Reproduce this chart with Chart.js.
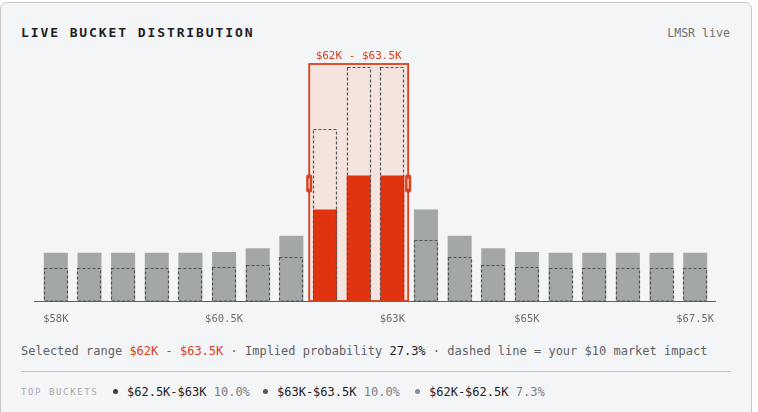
<!DOCTYPE html>
<html>
<head>
<meta charset="utf-8">
<script src="https://cdn.jsdelivr.net/npm/chart.js@4.4.1/dist/chart.umd.min.js"></script>
<style>
  html, body { margin: 0; padding: 0; background: #fff; width: 758px; height: 412px; overflow: hidden; }
  body { position: relative; font-family: "DejaVu Sans Mono", monospace; }
  .card { position: absolute; left: 0; top: 2px; width: 752px; height: 440px; box-sizing: border-box;
          background: #f3f5f6; border: 1px solid #c4c8cb; border-radius: 7px; }
  .title { position: absolute; left: 21px; top: 25px; line-height: 16px; font-size: 13px; font-weight: bold;
           letter-spacing: 1.9px; color: #1d2126; }
  .live { position: absolute; right: 28px; top: 25px; line-height: 16px; font-size: 11.6px; color: #6d7276; }
  #wrap { position: absolute; left: 0; top: 40px; width: 752px; height: 300px; }
  .caption { position: absolute; left: 21px; top: 343px; line-height: 16px; font-size: 12px; color: #5d6267; white-space: nowrap; }
  .caption .red { color: #d9401f; }
  .caption .dark { color: #1f2327; }
  .sep { position: absolute; left: 21px; top: 371px; width: 710px; height: 1px; background: #c3c7ca; }
  .topb { position: absolute; left: 21px; top: 384px; line-height: 16px; font-size: 9px; letter-spacing: 1.6px; color: #a5a9ad; }
  .item { position: absolute; top: 384px; line-height: 16px; font-size: 12px; color: #1f2327; white-space: nowrap; }
  .item .dot { display: inline-block; width: 5px; height: 5px; border-radius: 50%; margin-right: 9px; vertical-align: 2px; }
  .item .pct { color: #7b8085; }
</style>
</head>
<body>
<div class="card"></div>
<div class="title">LIVE BUCKET DISTRIBUTION</div>
<div class="live">LMSR live</div>
<div id="wrap"><canvas id="chart"></canvas></div>
<div class="caption" id="caption"></div>
<div class="sep"></div>
<div class="topb">TOP BUCKETS</div>
<div id="items"></div>
<script>
// bucket lower bounds ($K), each bucket is 0.5K wide
const bucketLow = [58, 58.5, 59, 59.5, 60, 60.5, 61, 61.5, 62, 62.5, 63, 63.5, 64, 64.5, 65, 65.5, 66, 66.5, 67, 67.5];
const bucketStep = 0.5;
// current LMSR probability per bucket (%)
const probNow = [3.85, 3.85, 3.85, 3.85, 3.85, 3.9, 4.2, 5.2, 7.3, 10.0, 10.0, 7.3, 5.2, 4.2, 3.9, 3.85, 3.85, 3.85, 3.85, 3.85];
// probability after your $10 trade (dashed outline)
const probImpact = [2.6, 2.6, 2.6, 2.6, 2.6, 2.7, 2.9, 3.5, 13.7, 18.7, 18.7, 4.9, 3.5, 2.9, 2.7, 2.6, 2.6, 2.6, 2.6, 2.6];
// axis tick labels and the bucket index they sit under
const tickIdx = [0, 5, 10, 14, 19];
const tickLabels = ['$58K', '$60.5K', '$63K', '$65K', '$67.5K'];
// selected range (bucket indices, inclusive)
const selStart = 8;
const selEnd = 10;

const RED = '#e1330f';
const RED_LINE = '#d9401f';
const GRAY = '#a3a7a8';

const fmtK = (v) => '$' + v + 'K';
const bucketName = (i) => fmtK(bucketLow[i]) + '-' + fmtK(bucketLow[i] + bucketStep);
const rangeText = fmtK(bucketLow[selStart]) + ' - ' + fmtK(bucketLow[selEnd] + bucketStep);

let implied = 0;
for (let i = selStart; i <= selEnd; i++) implied += probNow[i];

document.getElementById('caption').innerHTML =
  'Selected range <span class="red">' + rangeText + '</span> · Implied probability <span class="dark">' +
  implied.toFixed(1) + '%</span> · dashed line = your $10 market impact';

// top 3 buckets
const order = probNow.map((p, i) => i).sort((a, b) => probNow[b] - probNow[a]).slice(0, 3);
const itemX = [113, 263, 415];
const dotColors = ['#3a3e42', '#55595d', '#8a8e92'];
let html = '';
order.forEach((idx, k) => {
  html += '<div class="item" style="left:' + itemX[k] + 'px"><span class="dot" style="background:' + dotColors[k] + '"></span>' +
    bucketName(idx) + ' <span class="pct">' + probNow[idx].toFixed(1) + '%</span></div>';
});
document.getElementById('items').innerHTML = html;

Chart.defaults.font.family = '"DejaVu Sans Mono", monospace';

// box behind/around the selected range, dashed impact outlines, baseline
const overlay = {
  id: 'overlay',
  box(chart) {
    const x = chart.scales.x;
    const w = x.getPixelForValue(1) - x.getPixelForValue(0);
    return {
      left: x.getPixelForValue(selStart) - w / 2 + 1,
      right: x.getPixelForValue(selEnd) + w / 2 - 1,
      top: chart.chartArea.top,
      bottom: chart.chartArea.bottom
    };
  },
  beforeDatasetsDraw(chart) {
    const ctx = chart.ctx;
    const b = this.box(chart);
    ctx.save();
    ctx.fillStyle = '#f4e4dd';
    ctx.fillRect(b.left, b.top, b.right - b.left, b.bottom - b.top);
    ctx.restore();
  },
  afterDatasetsDraw(chart) {
    const ctx = chart.ctx;
    const area = chart.chartArea;
    const y = chart.scales.y;
    const meta = chart.getDatasetMeta(0);

    // baseline
    ctx.save();
    ctx.strokeStyle = '#5c6165';
    ctx.lineWidth = 1;
    ctx.beginPath();
    ctx.moveTo(area.left - 5, Math.round(area.bottom) + 0.5);
    ctx.lineTo(area.right + 4, Math.round(area.bottom) + 0.5);
    ctx.stroke();

    // dashed outlines = probability after $10
    ctx.setLineDash([3, 2]);
    ctx.strokeStyle = '#505458';
    ctx.lineWidth = 1.2;
    meta.data.forEach((bar, i) => {
      const top = Math.round(y.getPixelForValue(probImpact[i])) + 0.5;
      const l = Math.round(bar.x - bar.width / 2) + 0.5;
      const r = Math.round(bar.x + bar.width / 2) - 0.5;
      ctx.strokeRect(l, top, r - l, Math.round(area.bottom) - top);
    });
    ctx.setLineDash([]);

    // selection box
    const b = this.box(chart);
    ctx.strokeStyle = RED_LINE;
    ctx.lineWidth = 1.8;
    ctx.strokeRect(b.left, b.top, b.right - b.left, b.bottom - b.top);

    // drag handles
    const mid = (b.top + b.bottom) / 2 + 1;
    [b.left, b.right].forEach((hx) => {
      ctx.fillStyle = RED_LINE;
      ctx.beginPath();
      ctx.roundRect(hx - 3, mid - 9, 6, 18, 2);
      ctx.fill();
      ctx.fillStyle = '#f3b7a6';
      ctx.fillRect(hx - 0.75, mid - 5, 1.5, 10);
    });

    // range label
    ctx.fillStyle = RED_LINE;
    ctx.font = '11px "DejaVu Sans Mono", monospace';
    ctx.textAlign = 'center';
    ctx.textBaseline = 'middle';
    ctx.fillText(rangeText, (b.left + b.right) / 2, b.top - 8);
    ctx.restore();
  }
};

new Chart(document.getElementById('chart'), {
  type: 'bar',
  data: {
    labels: bucketLow.map(fmtK),
    datasets: [{
      data: probNow,
      backgroundColor: probNow.map((p, i) => (i >= selStart && i <= selEnd) ? RED : GRAY),
      borderWidth: 0,
      barPercentage: 0.714,
      categoryPercentage: 1.0
    }]
  },
  options: {
    responsive: true,
    maintainAspectRatio: false,
    animation: false,
    layout: { padding: { top: 24, left: 39, right: 40, bottom: 11 } },
    plugins: { legend: { display: false }, tooltip: { enabled: false } },
    scales: {
      x: {
        grid: { display: false, drawTicks: false },
        border: { display: false },
        afterFit: (scale) => { scale.height = 28; },
        ticks: {
          autoSkip: false,
          maxRotation: 0,
          padding: 12,
          color: '#6b7075',
          font: { size: 10.5 },
          callback: (v, i) => {
            const k = tickIdx.indexOf(i);
            return k >= 0 ? tickLabels[k] : '';
          }
        }
      },
      y: { display: false, min: 0, max: 18.9 }
    }
  },
  plugins: [overlay]
});
</script>
</body>
</html>
